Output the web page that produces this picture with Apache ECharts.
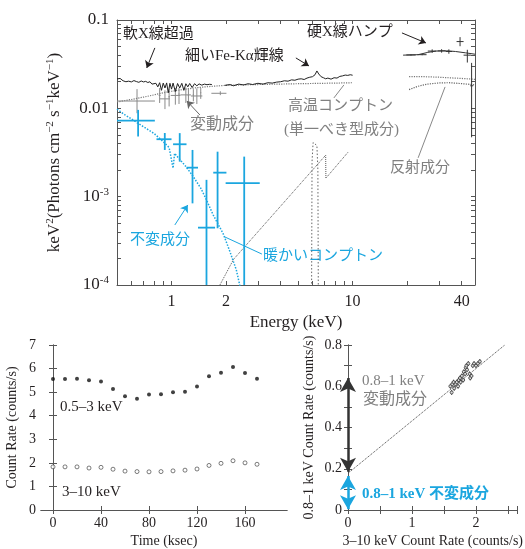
<!DOCTYPE html>
<html><head><meta charset="utf-8">
<script src="https://cdn.jsdelivr.net/npm/echarts@6/dist/echarts.min.js"></script>
<style>html,body{margin:0;padding:0;background:#fff}#c{width:525px;height:549px}</style>
</head><body><div id="c"></div>
<script>
// ---------- top panel: spectrum ----------
const specE1 = [0.50,0.52,0.54,0.56,0.58,0.60,0.62,0.64,0.66,0.68,0.70,0.72,0.74,0.76,0.78,0.80,0.82,0.84,0.86,0.88,0.90,0.92,0.94,0.96,0.98,1.00,1.02,1.05,1.08,1.11,1.14,1.17,1.20,1.23,1.26,1.30,1.34,1.38,1.42,1.47,1.52,1.57,1.62,1.67];
const specV1 = [0.0215,0.0218,0.0205,0.0200,0.0203,0.0199,0.0206,0.0201,0.0197,0.0204,0.0199,0.0202,0.0196,0.0200,0.0188,0.0198,0.0192,0.0175,0.0195,0.0160,0.0193,0.0170,0.0194,0.0150,0.0192,0.0165,0.0193,0.0155,0.0191,0.0170,0.0192,0.0160,0.0190,0.0175,0.0191,0.0172,0.0190,0.0180,0.0189,0.0183,0.0188,0.0185,0.0187,0.0186];
const specE2 = [1.97,2.1,2.2,2.35,2.5,2.65,2.8,3.0,3.2,3.4,3.6,3.8,4.0,4.2,4.4,4.6,4.8,5.0,5.2,5.4,5.6,5.8,6.0,6.2,6.35,6.5,6.7,6.9,7.1,7.3,7.6,7.9,8.2,8.5,8.8,9.1,9.4,9.7,10.0];
const specV2 = [0.0182,0.0186,0.0180,0.0188,0.0184,0.0190,0.0186,0.0192,0.0188,0.0195,0.0193,0.0198,0.0200,0.0205,0.0203,0.0210,0.0208,0.0214,0.0216,0.0212,0.0220,0.0225,0.0228,0.0240,0.0265,0.0245,0.0228,0.0222,0.0216,0.0220,0.0214,0.0222,0.0220,0.0230,0.0233,0.0238,0.0236,0.0240,0.0237];
const hotE = [0.5,0.6,0.7,0.8,0.9,1.0,1.2,1.4,1.7,2.0,3.0,5.0,8.0,10.0];
const hotV = [0.0118,0.0126,0.0134,0.0142,0.0150,0.0156,0.0165,0.0172,0.0178,0.0182,0.0186,0.0190,0.0193,0.0195];
const hotHE = [20.5,25,30,35,40,47.4];
const hotHV = [0.0229,0.0228,0.0225,0.0221,0.0218,0.0213];
const reflHE = [20.5,23,26,30,34,38,43,47.4];
const reflHV = [0.0163,0.0178,0.0188,0.0194,0.0195,0.0192,0.0188,0.0184];
const reflE = [1.85,2.2,7.1,7.12,9.45];
const reflV = [1.0e-4,1.95e-4,2.95e-3,1.62e-3,3.2e-3];
const feE = [5.93,5.97,6.05,6.2,6.35,6.43,6.47];
const feV = [5e-5,0.0025,0.0041,0.0043,0.0038,0.0020,5e-5];
const hardME = [19,23,26,29,33,37,42,47.4];
const hardMV = [0.0400,0.0405,0.0430,0.0445,0.0448,0.0440,0.0425,0.0410];
const warmE = [0.5,0.55,0.6,0.65,0.7,0.8,0.9,0.97,1.02,1.04,1.1,1.2,1.32,1.45,1.56,1.7,1.93,2.1,2.28,2.38,2.45];
const warmV = [0.0098,0.0085,0.0076,0.0068,0.0062,0.0052,0.0042,0.0036,0.0021,0.0031,0.0027,0.0022,0.00168,0.00125,0.00092,0.00062,0.00038,0.00024,0.000148,0.0001,0.00008];
// crosses: x, y, xlo, xhi, ylo, yhi
const grayX   = [0.645,0.86,0.92,0.97,1.05,1.10,1.20,1.24,1.32,1.38,1.45,1.86];
const grayY   = [0.0121,0.0140,0.0128,0.0135,0.0140,0.0145,0.0142,0.0139,0.0142,0.0138,0.0150,0.0148];
const grayXlo = [0.50,0.85,0.86,0.96,0.99,1.09,1.12,1.23,1.31,1.28,1.44,1.66];
const grayXhi = [0.81,0.87,0.98,0.98,1.12,1.11,1.28,1.25,1.33,1.48,1.46,2.01];
const grayYlo = [0.0088,0.0115,0.0098,0.0105,0.0110,0.0112,0.0115,0.0108,0.0120,0.0112,0.0128,0.0141];
const grayYhi = [0.0165,0.0170,0.0160,0.0165,0.0170,0.0170,0.0172,0.0168,0.0165,0.0168,0.0170,0.0156];
const blueX   = [0.654,0.918,1.11,1.306,1.56,1.796,2.52];
const blueY   = [0.00726,0.00447,0.00392,0.00213,0.000446,0.00187,0.00142];
const blueXlo = [0.497,0.826,1.02,1.21,1.40,1.70,1.99];
const blueXhi = [0.809,1.00,1.21,1.40,1.74,2.01,3.07];
const blueYlo = [0.0048,0.00338,0.00249,0.00084,0.00002,0.000439,0.00002];
const blueYhi = [0.0096,0.00526,0.00524,0.00338,0.00155,0.00323,0.00284];
const hardX   = [21.0,24.2,27.5,31.0,34.0,39.2,43.0,45.4];
const hardY   = [0.0402,0.0405,0.0445,0.0447,0.0440,0.0570,0.0400,0.0180];
const hardXlo = [19.8,22.8,26.0,29.5,32.6,37.5,41.0,44.6];
const hardXhi = [22.3,25.6,29.0,32.5,35.4,41.0,45.0,46.3];
const hardYlo = [0.0396,0.0399,0.0425,0.0427,0.0415,0.0505,0.0330,0.0047];
const hardYhi = [0.0408,0.0411,0.0465,0.0467,0.0465,0.0640,0.0460,0.0327];
const xTickVals = [0.6,0.7,0.8,0.9,1,2,3,4,5,6,7,8,9,10,20,30,40];
const xLabelVals = [1,2,10,40];
const yTickVals = [1e-4,2e-4,3e-4,4e-4,5e-4,6e-4,7e-4,8e-4,9e-4,1e-3,2e-3,3e-3,4e-3,5e-3,6e-3,7e-3,8e-3,9e-3,0.01,0.02,0.03,0.04,0.05,0.06,0.07,0.08,0.09,0.1];
const yLabelVals = [1e-4,1e-3,0.01,0.1];

// ---------- bottom left: light curves ----------
const timeT = [0,10,20,30,40,50,60,70,80,90,100,110,120,130,140,150,160,170];
const softRate = [5.56,5.56,5.57,5.50,5.45,5.13,4.83,4.72,4.90,4.91,5.00,5.02,5.24,5.67,5.82,6.07,5.81,5.57];
const hardRate = [1.83,1.83,1.83,1.78,1.81,1.73,1.65,1.63,1.62,1.63,1.66,1.69,1.74,1.89,1.98,2.09,2.00,1.94];
const timeLabels = [0,40,80,120,160];

// ---------- bottom right: flux-flux ----------
const ffX = [1.60,1.62,1.63,1.65,1.66,1.68,1.70,1.72,1.73,1.75,1.76,1.78,1.80,1.81,1.83,1.84,1.85,1.86,1.88,1.90,1.91,1.93,1.95,1.97,2.00,2.03,2.06];
const ffY = [0.60,0.57,0.61,0.62,0.59,0.61,0.62,0.60,0.63,0.64,0.62,0.65,0.63,0.67,0.66,0.69,0.70,0.68,0.71,0.66,0.64,0.65,0.70,0.71,0.70,0.71,0.72];
const ffXerr = [0.02,0.02,0.02,0.02,0.02,0.02,0.02,0.02,0.02,0.02,0.02,0.02,0.02,0.02,0.02,0.02,0.02,0.02,0.02,0.02,0.02,0.02,0.02,0.02,0.02,0.02,0.02];
const ffYerr = [0.012,0.012,0.012,0.012,0.012,0.012,0.012,0.012,0.012,0.012,0.012,0.012,0.012,0.012,0.012,0.012,0.012,0.012,0.012,0.012,0.012,0.012,0.012,0.012,0.012,0.012,0.012];
const fitLine = [[0,0.178],[2.45,0.80]];
const varArrow = [[0,0.185],[0,0.64]];
const invArrow = [[0,0.004],[0,0.165]];

const SERIF = "'Liberation Serif','Noto Sans CJK JP'";
const JP = "'Liberation Serif','Noto Sans CJK JP'";
const BLUE = '#1ba6df';
const GRAY = '#808080';
const DARK = '#231f20';
const AX = '#555';

function zip(a, b) { return a.map((v, i) => [v, b[i]]); }
function crosses(x, y, xl, xh, yl, yh) { return x.map((v, i) => [v, y[i], xl[i], xh[i], yl[i], yh[i]]); }
function errRender(lw) {
  return function (params, api) {
    const x = api.value(0), y = api.value(1);
    const a = api.coord([api.value(2), y]), b = api.coord([api.value(3), y]);
    const c = api.coord([x, api.value(4)]), d = api.coord([x, api.value(5)]);
    const st = { stroke: api.visual('color'), lineWidth: lw };
    return { type: 'group', children: [
      { type: 'line', shape: { x1: a[0], y1: a[1], x2: b[0], y2: b[1] }, style: st },
      { type: 'line', shape: { x1: c[0], y1: c[1], x2: d[0], y2: d[1] }, style: st }
    ]};
  };
}
function ffRender(params, api) {
  const x = api.value(0), y = api.value(1), ex = api.value(2), ey = api.value(3);
  const a = api.coord([x - ex, y]), b = api.coord([x + ex, y]);
  const c = api.coord([x, y - ey]), d = api.coord([x, y + ey]);
  const st = { stroke: '#333', lineWidth: 0.9 };
  return { type: 'group', children: [
    { type: 'line', shape: { x1: a[0], y1: a[1], x2: b[0], y2: b[1] }, style: st },
    { type: 'line', shape: { x1: c[0], y1: c[1], x2: d[0], y2: d[1] }, style: st }
  ]};
}

const axLine = { show: true, lineStyle: { color: AX, width: 1 } };
function tick(vals, len) { const t = { show: true, inside: true, length: len || 4, lineStyle: { color: AX } }; if (vals) t.customValues = vals; return t; }

const chart = echarts.init(document.getElementById('c'), null, { renderer: 'canvas' });

const yFmt = function (v) {
  if (v >= 0.005) return '{n|' + (+v.toPrecision(2)) + '}';
  const e = Math.round(Math.log10(v));
  return '{n|10}{s|' + e + '}';
};

const topYName = '{a|keV}{s|2}{a|(Photons cm}{s|−2}{a| s}{s|−1}{a|keV}{s|−1}{a|)}';

function arrowLine(p1, p2, color, head) {
  return [
    { coord: p1, symbol: 'none', lineStyle: { color: color, width: 1, type: 'solid' } },
    { coord: p2, symbol: head ? 'arrow' : 'none' }
  ];
}

const option = {
  animation: false,
  backgroundColor: '#fff',
  grid: [
    { left: 117, top: 20, width: 358, height: 265 },
    { left: 41, top: 345, width: 246, height: 170 },
    { left: 348, top: 345, width: 174, height: 170 }
  ],
  xAxis: [
    { gridIndex: 0, type: 'log', logBase: 10, min: 0.5, max: 47.4, position: 'bottom',
      axisLine: axLine, axisTick: tick(xTickVals, 4), splitLine: { show: false }, minorTick: { show: false },
      axisLabel: { customValues: xLabelVals, formatter: v => String(+v.toPrecision(3)), fontFamily: SERIF, fontSize: 16, color: DARK, margin: 9 },
      name: 'Energy (keV)', nameLocation: 'middle', nameGap: 29, nameTextStyle: { fontFamily: SERIF, fontSize: 17, color: DARK } },
    { gridIndex: 0, type: 'log', logBase: 10, min: 0.5, max: 47.4, position: 'top',
      axisLine: axLine, axisTick: tick(xTickVals, 4), splitLine: { show: false }, axisLabel: { show: false } },
    { gridIndex: 1, type: 'value', min: -10, max: 195, position: 'bottom',
      axisLine: axLine, axisTick: tick(timeLabels, 4), splitLine: { show: false },
      axisLabel: { customValues: timeLabels, fontFamily: SERIF, fontSize: 14, color: DARK, margin: 6 },
      name: 'Time (ksec)', nameLocation: 'middle', nameGap: 24, nameTextStyle: { fontFamily: SERIF, fontSize: 14, color: DARK } },
    { gridIndex: 1, type: 'value', min: -10, max: 195, position: 'top',
      axisLine: axLine, axisTick: tick(timeLabels, 4), splitLine: { show: false }, axisLabel: { show: false } },
    { gridIndex: 2, type: 'value', min: 0, max: 2.65, interval: 1, position: 'bottom',
      axisLine: axLine, axisTick: tick(null, 4), minorTick: { show: true, splitNumber: 2, length: 4, lineStyle: { color: AX } }, splitLine: { show: false },
      axisLabel: { showMaxLabel: false, fontFamily: SERIF, fontSize: 14, color: DARK, margin: 6 },
      name: '3–10 keV Count Rate (counts/s)', nameLocation: 'middle', nameGap: 24, nameTextStyle: { fontFamily: SERIF, fontSize: 14, color: DARK } },
    { gridIndex: 2, type: 'value', min: 0, max: 2.65, interval: 1, position: 'top',
      axisLine: axLine, axisTick: tick(null, 4), minorTick: { show: true, splitNumber: 2, length: 4, lineStyle: { color: AX } }, splitLine: { show: false }, axisLabel: { show: false } }
  ],
  yAxis: [
    { gridIndex: 0, type: 'log', logBase: 10, min: 1e-4, max: 0.1, position: 'left',
      axisLine: axLine, axisTick: tick(yTickVals, 4), splitLine: { show: false },
      axisLabel: { customValues: yLabelVals, formatter: yFmt, margin: 8,
        rich: { n: { fontFamily: SERIF, fontSize: 17, color: DARK, lineHeight: 20 },
                s: { fontFamily: SERIF, fontSize: 11, color: DARK, lineHeight: 12, verticalAlign: 'top' } } },
      name: topYName, nameLocation: 'middle', nameGap: 52,
      nameTextStyle: { rich: { a: { fontFamily: SERIF, fontSize: 17, color: DARK, lineHeight: 20 },
                               s: { fontFamily: SERIF, fontSize: 11, color: DARK, lineHeight: 12, verticalAlign: 'top' } } } },
    { gridIndex: 0, type: 'log', logBase: 10, min: 1e-4, max: 0.1, position: 'right',
      axisLine: axLine, axisTick: tick(yTickVals, 4), splitLine: { show: false }, axisLabel: { show: false } },
    { gridIndex: 1, type: 'value', min: 0, max: 7, interval: 1, position: 'left',
      axisLine: axLine, axisTick: tick(null, 4), splitLine: { show: false },
      axisLabel: { fontFamily: SERIF, fontSize: 14, color: DARK, margin: 5 },
      name: 'Count Rate (counts/s)', nameLocation: 'middle', nameGap: 22, nameTextStyle: { fontFamily: SERIF, fontSize: 14, color: DARK } },
    { gridIndex: 1, type: 'value', min: 0, max: 7, interval: 1, position: 'right',
      axisLine: axLine, axisTick: tick(null, 4), splitLine: { show: false }, axisLabel: { show: false } },
    { gridIndex: 2, type: 'value', min: 0, max: 0.8, interval: 0.2, position: 'left',
      axisLine: axLine, axisTick: tick(null, 4), minorTick: { show: true, splitNumber: 2, length: 4, lineStyle: { color: AX } }, splitLine: { show: false },
      axisLabel: { fontFamily: SERIF, fontSize: 14, color: DARK, margin: 6 },
      name: '0.8–1 keV Count Rate (counts/s)', nameLocation: 'middle', nameGap: 32, nameTextStyle: { fontFamily: SERIF, fontSize: 14, color: DARK } },
    { gridIndex: 2, type: 'value', min: 0, max: 0.8, interval: 0.2, position: 'right',
      axisLine: axLine, axisTick: tick(null, 4), minorTick: { show: true, splitNumber: 2, length: 4, lineStyle: { color: AX } }, splitLine: { show: false }, axisLabel: { show: false } }
  ],
  series: [
    // top panel
    { type: 'line', xAxisIndex: 0, yAxisIndex: 0, data: zip(hotE, hotV), symbol: 'none', lineStyle: { color: '#777', width: 1.2, type: 'dotted' }, z: 2,
      markLine: { silent: true, symbolSize: 7, label: { show: false }, animation: false,
        data: [
          arrowLine([0.809, 0.0483], [0.730, 0.0287], DARK, true),
          arrowLine([4.86, 0.0372], [5.74, 0.0302], DARK, true),
          arrowLine([18.73, 0.0714], [25.4, 0.055], DARK, true),
          arrowLine([1.434, 0.00842], [1.215, 0.01213], '#666', true),
          arrowLine([7.88, 0.01311], [8.95, 0.0184], '#888', false),
          arrowLine([23.0, 0.00275], [32.4, 0.01748], '#888', false),
          arrowLine([1.043, 0.000478], [1.23, 0.000805], BLUE, true),
          arrowLine([3.155, 0.000224], [1.97, 0.00035], BLUE, false)
        ] } },
    { type: 'line', xAxisIndex: 0, yAxisIndex: 0, data: zip(hotHE, hotHV), symbol: 'none', lineStyle: { color: '#777', width: 1.2, type: 'dotted' }, z: 2 },
    { type: 'line', xAxisIndex: 0, yAxisIndex: 0, data: zip(reflHE, reflHV), symbol: 'none', lineStyle: { color: '#666', width: 1.2, type: 'dotted' }, z: 2 },
    { type: 'line', xAxisIndex: 0, yAxisIndex: 0, data: zip(reflE, reflV), symbol: 'none', lineStyle: { color: '#555', width: 1, type: 'dotted' }, z: 2 },
    { type: 'line', xAxisIndex: 0, yAxisIndex: 0, data: zip(feE, feV), symbol: 'none', lineStyle: { color: '#666', width: 1, type: [1.5, 2] }, z: 2 },
    { type: 'line', xAxisIndex: 0, yAxisIndex: 0, data: zip(warmE, warmV), symbol: 'none', lineStyle: { color: BLUE, width: 1.5, type: 'dotted' }, z: 3 },
    { type: 'line', xAxisIndex: 0, yAxisIndex: 0, data: zip(specE1, specV1), symbol: 'none', lineStyle: { color: '#222', width: 1 }, z: 4 },
    { type: 'line', xAxisIndex: 0, yAxisIndex: 0, data: zip(specE2, specV2), symbol: 'none', lineStyle: { color: '#222', width: 1 }, z: 4 },
    { type: 'line', xAxisIndex: 0, yAxisIndex: 0, data: zip(hardME, hardMV), symbol: 'none', lineStyle: { color: '#333', width: 1 }, z: 4 },
    { type: 'custom', xAxisIndex: 0, yAxisIndex: 0, clip: true, renderItem: errRender(1), itemStyle: { color: '#8a8a8a' }, data: crosses(grayX, grayY, grayXlo, grayXhi, grayYlo, grayYhi), z: 3 },
    { type: 'custom', xAxisIndex: 0, yAxisIndex: 0, clip: true, renderItem: errRender(1.8), itemStyle: { color: BLUE }, data: crosses(blueX, blueY, blueXlo, blueXhi, blueYlo, blueYhi), z: 5 },
    { type: 'custom', xAxisIndex: 0, yAxisIndex: 0, clip: true, renderItem: errRender(1), itemStyle: { color: '#333' }, data: crosses(hardX, hardY, hardXlo, hardXhi, hardYlo, hardYhi), z: 5 },
    // bottom-left
    { type: 'scatter', xAxisIndex: 2, yAxisIndex: 2, data: zip(timeT, softRate), symbol: 'circle', symbolSize: 4, itemStyle: { color: '#111' } },
    { type: 'scatter', xAxisIndex: 2, yAxisIndex: 2, data: zip(timeT, hardRate), symbol: 'circle', symbolSize: 4, itemStyle: { color: '#fff', borderColor: '#333', borderWidth: 0.8 } },
    // bottom-right
    { type: 'line', xAxisIndex: 4, yAxisIndex: 4, data: fitLine, symbol: 'none', lineStyle: { color: '#444', width: 1, type: 'dotted' } },
    { type: 'custom', xAxisIndex: 4, yAxisIndex: 4, renderItem: ffRender, data: ffX.map((v, i) => [v, ffY[i], ffXerr[i], ffYerr[i]]), z: 4 },
    { type: 'scatter', xAxisIndex: 4, yAxisIndex: 4, data: zip(ffX, ffY), symbol: 'circle', symbolSize: 3, itemStyle: { color: '#fff', borderColor: '#333', borderWidth: 1 }, z: 5 },
    { type: 'line', xAxisIndex: 4, yAxisIndex: 4, data: [], clip: false, z: 6,
      markLine: { silent: true, symbol: ['arrow', 'arrow'], symbolSize: [12, 14], label: { show: false }, animation: false,
        data: [
          [{ coord: varArrow[0], lineStyle: { color: '#333', width: 2.5, type: 'solid' } }, { coord: varArrow[1] }],
          [{ coord: invArrow[0], lineStyle: { color: BLUE, width: 2.5, type: 'solid' } }, { coord: invArrow[1] }]
        ] } }
  ],
  graphic: [
    { type: 'text', left: 123, top: 27, style: { text: '軟X線超過', font: "15px " + JP, fill: DARK } },
    { type: 'text', left: 185, top: 49, style: { text: '細いFe-Kα輝線', font: "15px " + JP, fill: DARK } },
    { type: 'text', left: 307, top: 25, style: { text: '硬X線ハンプ', font: "15px " + JP, fill: DARK } },
    { type: 'text', left: 190, top: 117, style: { text: '変動成分', font: "16px " + JP, fill: GRAY } },
    { type: 'text', left: 288, top: 99, style: { text: '高温コンプトン', font: "15px " + JP, fill: GRAY } },
    { type: 'text', left: 284, top: 123, style: { text: '(単一べき型成分)', font: "15px " + JP, fill: GRAY } },
    { type: 'text', left: 390, top: 161, style: { text: '反射成分', font: "15px " + JP, fill: GRAY } },
    { type: 'text', left: 130, top: 233, style: { text: '不変成分', font: "15px " + JP, fill: BLUE } },
    { type: 'text', left: 263, top: 249, style: { text: '暖かいコンプトン', font: "15px " + JP, fill: BLUE } },
    { type: 'text', left: 60, top: 400, style: { text: '0.5–3 keV', font: "15px " + SERIF, fill: DARK } },
    { type: 'text', left: 62, top: 485, style: { text: '3–10 keV', font: "15px " + SERIF, fill: DARK } },
    { type: 'text', left: 362, top: 374, style: { text: '0.8–1 keV', font: "15px " + SERIF, fill: GRAY } },
    { type: 'text', left: 363, top: 392, style: { text: '変動成分', font: "16px " + JP, fill: GRAY } },
    { type: 'text', left: 362, top: 487, style: { text: '0.8–1 keV 不変成分', font: "bold 15px " + JP, fill: BLUE } }
  ]
};
chart.setOption(option);
</script></body></html>
